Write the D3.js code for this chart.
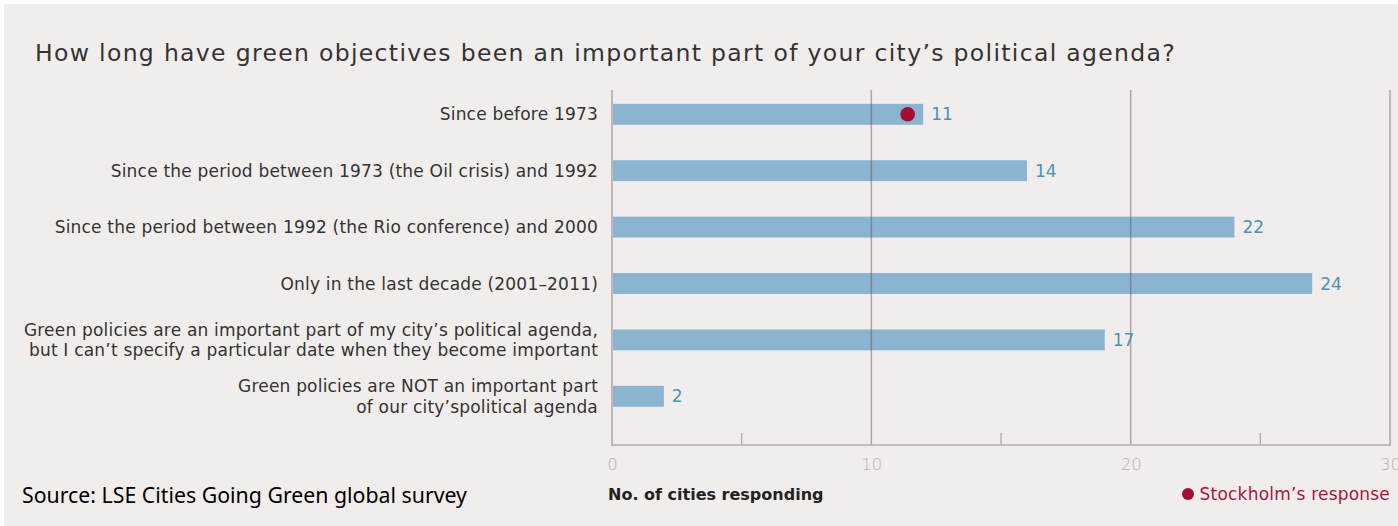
<!DOCTYPE html>
<html>
<head>
<meta charset="utf-8">
<script src="https://cdn.jsdelivr.net/npm/d3@7"></script>
<style>
  html, body { margin: 0; padding: 0; background: #ffffff; }
  svg { display: block; }
</style>
</head>
<body>
<svg id="chart" width="1398" height="526"></svg>
<script>
// ---- data ----
const categories = [
  ["Since before 1973"],
  ["Since the period between 1973 (the Oil crisis) and 1992"],
  ["Since the period between 1992 (the Rio conference) and 2000"],
  ["Only in the last decade (2001\u20132011)"],
  ["Green policies are an important part of my city\u2019s political agenda,", "but I can\u2019t specify a particular date when they become important"],
  ["Green policies are NOT an important part", "of our city\u2019spolitical agenda"]
];
// bar lengths as drawn in the picture (axis units)
const barValues = [12, 16, 24, 27, 19, 2];
// value labels as printed next to bars
const valueLabels = ["11", "14", "22", "24", "17", "2"];
// Stockholm's response marker (category index, position in axis units)
const stockholmIndex = [0];
const stockholmValue = [11.4];
const majorTicks = [0, 10, 20, 30];
const minorTicks = [5, 15, 25];
const title = "How long have green objectives been an important part of your city\u2019s political agenda?";
const axisTitle = "No. of cities responding";
const legendLabel = "Stockholm\u2019s response";
const sourceText = "Source: LSE Cities Going Green global survey";

// ---- drawing ----
const svg = d3.select("#chart");
const font = "'DejaVu Sans', 'Noto Sans', sans-serif";

svg.append("rect").attr("x", 4).attr("y", 4).attr("width", 1394).attr("height", 522)
  .attr("fill", "#f0edec");

const x = d3.scaleLinear().domain([0, 30]).range([612, 1390]);
const y = d3.scaleBand().domain(d3.range(categories.length))
  .range([86.1, 424.5]).paddingInner(0.63).paddingOuter(0.315);
const baseY = 445;
const gridTop = 90;

// title
svg.append("text").attr("x", 35).attr("y", 61)
  .attr("font-family", font).attr("font-size", 23.5).attr("letter-spacing", 1.33)
  .attr("fill", "#333").text(title);

// bars
svg.append("g").selectAll("rect").data(barValues).join("rect")
  .attr("x", x(0))
  .attr("y", (d, i) => y(i))
  .attr("width", d => x(d) - x(0))
  .attr("height", y.bandwidth())
  .attr("fill", "#8ab4cf");

// gridlines (drawn over bars)
svg.append("g").selectAll("line").data(majorTicks).join("line")
  .attr("x1", d => x(d)).attr("x2", d => x(d))
  .attr("y1", gridTop).attr("y2", baseY)
  .attr("stroke", d => (d === 0 || d === 30) ? "#bdb7b5" : "rgba(90,80,80,0.45)")
  .attr("stroke-width", d => (d === 0 || d === 30) ? 2 : 1.5);

svg.append("g").selectAll("line").data(minorTicks).join("line")
  .attr("x1", d => x(d)).attr("x2", d => x(d))
  .attr("y1", baseY - 12).attr("y2", baseY)
  .attr("stroke", "#a9a3a1").attr("stroke-width", 1.2);

svg.append("line").attr("x1", x(0) - 1).attr("x2", x(30) + 1)
  .attr("y1", baseY).attr("y2", baseY)
  .attr("stroke", "#b3adab").attr("stroke-width", 1.5);

// axis tick labels
const axis = d3.axisBottom(x).tickValues(majorTicks).tickSize(0).tickPadding(0);
const ag = svg.append("g").attr("transform", `translate(0,${baseY + 13})`).call(axis);
ag.select(".domain").remove();
ag.selectAll("text").attr("font-family", font).attr("font-size", 16.5)
  .attr("font-weight", 300).attr("fill", "#b8b1ac").attr("dy", "0.71em");

// Stockholm dot
svg.append("g").selectAll("circle").data(stockholmIndex).join("circle")
  .attr("cx", (d, k) => x(stockholmValue[k]))
  .attr("cy", d => y(d) + y.bandwidth() / 2)
  .attr("r", 7.3).attr("fill", "#a50d34");

// value labels
svg.append("g").selectAll("text").data(barValues).join("text")
  .attr("x", d => x(d) + 8)
  .attr("y", (d, i) => y(i) + y.bandwidth() / 2)
  .attr("dy", "0.36em")
  .attr("font-family", font).attr("font-size", 17).attr("fill", "#4a93b5")
  .text((d, i) => valueLabels[i]);

// category labels
const cg = svg.append("g");
categories.forEach((lines, i) => {
  const cy = y(i) + y.bandwidth() / 2;
  const t = cg.append("text").attr("text-anchor", "end")
    .attr("font-family", font).attr("font-size", 17).attr("letter-spacing", 0.2)
    .attr("fill", "#333");
  lines.forEach((ln, j) => {
    t.append("tspan").attr("x", 598)
      .attr("y", cy + (j - (lines.length - 1) / 2) * 20.5)
      .attr("dy", "0.36em").text(ln);
  });
});

// axis title
svg.append("text").attr("x", 608).attr("y", 500)
  .attr("font-family", font).attr("font-size", 16).attr("font-weight", 700)
  .attr("fill", "#222").text(axisTitle);

// legend
const lg = svg.append("g");
lg.append("text").attr("x", 1390).attr("y", 500).attr("text-anchor", "end")
  .attr("font-family", font).attr("font-size", 17).attr("letter-spacing", 0.2)
  .attr("fill", "#a8163c").text(legendLabel);
lg.append("circle").attr("cx", 1188).attr("cy", 494).attr("r", 6).attr("fill", "#a50d34");

// source
svg.append("text").attr("x", 22).attr("y", 503)
  .attr("font-family", "'Noto Sans', sans-serif")
  .attr("font-size", 21.3).attr("fill", "#000").text(sourceText);
</script>
</body>
</html>
